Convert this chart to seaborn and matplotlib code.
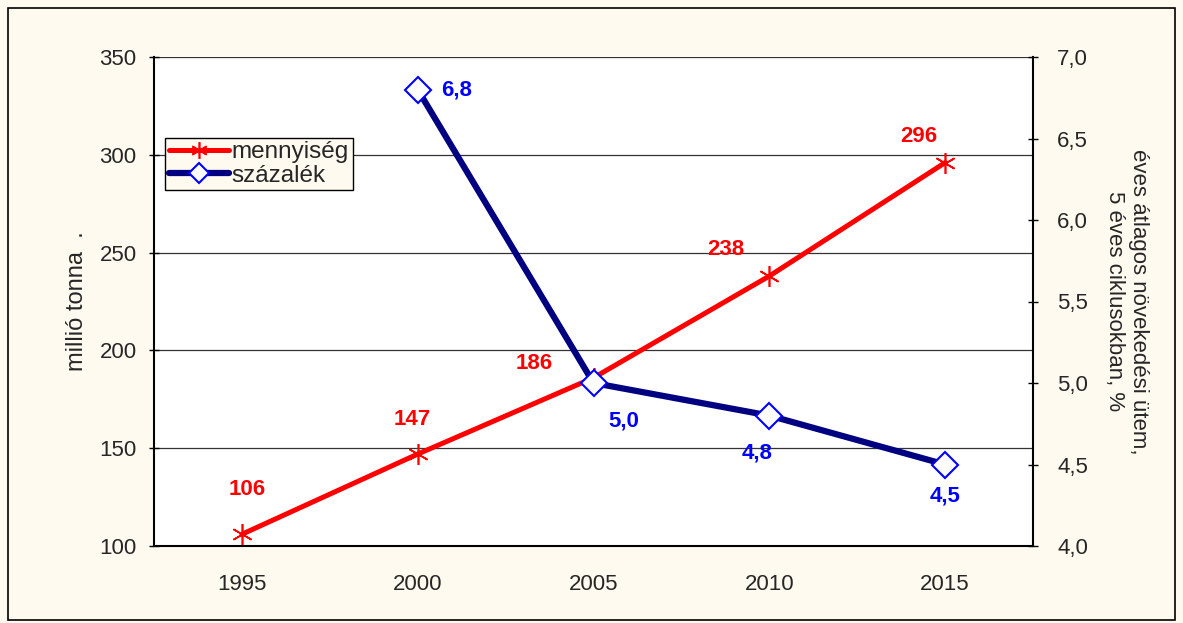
import matplotlib
matplotlib.use("Agg")
import matplotlib.pyplot as plt
import seaborn as sns
import numpy as np
import pandas as pd

years = ["1995", "2000", "2005", "2010", "2015"]
mennyiseg = [106, 147, 186, 238, 296]
szazalek = [np.nan, 6.8, 5.0, 4.8, 4.5]
mennyiseg_labels = ["106", "147", "186", "238", "296"]
szazalek_labels = ["", "6,8", "5,0", "4,8", "4,5"]

sns.set_style("white")
plt.rcParams['font.family'] = ['Liberation Sans', 'DejaVu Sans']

df = pd.DataFrame({"pos": np.arange(len(years)), "m": mennyiseg, "s": szazalek})

FS = 16

fig = plt.figure(figsize=(11.83, 6.23), dpi=100, facecolor="#FFFAF0")
ax = fig.add_axes([154/1183, 77/623, (1033-154)/1183, (546-57)/623])
ax.set_facecolor("white")
ax2 = ax.twinx()

sns.lineplot(data=df, x="pos", y="m", ax=ax, color="red", linewidth=3.6,
             marker=(6, 2, 0), markersize=15, markeredgecolor="red",
             markeredgewidth=1.2, label="mennyiség", legend=False, zorder=3)
sns.lineplot(data=df, x="pos", y="s", ax=ax2, color="#000080", linewidth=4.5,
             marker="D", markersize=13, markerfacecolor="white",
             markeredgecolor="blue", markeredgewidth=1.5, label="százalék",
             legend=False, zorder=3)

ax.set_xlim(-0.5, len(years) - 0.5)
ax.set_ylim(100, 350)
ax2.set_ylim(4.0, 7.0)
ax.set_yticks([100, 150, 200, 250, 300, 350])
ax2.set_yticks(np.arange(4.0, 7.01, 0.5))
ax2.set_yticklabels([f"{v:.1f}".replace(".", ",") for v in np.arange(4.0, 7.01, 0.5)])

ax.set_xticks(np.arange(-0.5, len(years), 1.0))
ax.set_xticklabels([])
ax.set_xticks(np.arange(len(years)), minor=True)
ax.set_xticklabels(years, minor=True)
ax.tick_params(axis="x", which="minor", length=0, pad=20, labelsize=FS)
ax.tick_params(axis="x", which="major", length=7, width=1, direction="inout", color="black")
ax.tick_params(axis="y", length=7, width=1, direction="inout", labelsize=FS, pad=9, color="black")
ax2.tick_params(axis="y", length=7, width=1, direction="inout", labelsize=FS, pad=14, color="black")

ax.yaxis.grid(True, color="#333333", linewidth=0.9)
ax.set_axisbelow(True)
for sp in ax.spines.values():
    sp.set_visible(False)
for sp in ax2.spines.values():
    sp.set_visible(False)
ax.spines["left"].set_visible(True)
ax.spines["bottom"].set_visible(True)
ax2.spines["right"].set_visible(True)
for s in [ax.spines["left"], ax.spines["bottom"], ax2.spines["right"]]:
    s.set_color("black")
    s.set_linewidth(1.5)

ax.set_xlabel("")
ax.set_ylabel("millió tonna  .", fontsize=FS + 1, labelpad=8)
ax2.set_ylabel("éves átlagos növekedési ütem,\n5 éves ciklusokban, %", fontsize=FS,
               rotation=270, labelpad=44)

# data labels
m_off = [(4, 32), (-4, 25), (-43, 10), (-31, 19), (-19, 19)]
for i, (v, t) in enumerate(zip(mennyiseg, mennyiseg_labels)):
    ax.annotate(t, (i, v), xytext=m_off[i], textcoords="offset points",
                color="red", fontsize=FS, fontweight="bold", ha="center", va="center")
s_off = [(0, 0), (28, 0), (22, -27), (-9, -27), (0, -23)]
for i, (v, t) in enumerate(zip(szazalek, szazalek_labels)):
    if t:
        ax2.annotate(t, (i, v), xytext=s_off[i], textcoords="offset points",
                     color="blue", fontsize=FS, fontweight="bold", ha="center", va="center")

h1, l1 = ax.get_legend_handles_labels()
h2, l2 = ax2.get_legend_handles_labels()
leg = ax2.legend(h1 + h2, l1 + l2, loc="upper left", bbox_to_anchor=(0.0125, 0.835),
                 fontsize=FS + 1.5, frameon=True, fancybox=False, facecolor="#FFFAF0",
                 edgecolor="black", framealpha=1, handlelength=2.5, handletextpad=0.1,
                 borderpad=0.15, labelspacing=0.05, borderaxespad=0, markerscale=0.8)
leg.get_frame().set_linewidth(1.0)

fig.patches.append(plt.Rectangle((8/1183, 3/623), 1167/1183, 612/623, transform=fig.transFigure,
                                 fill=False, edgecolor="black", linewidth=1.2))

fig.savefig("out.png", dpi=100, facecolor=fig.get_facecolor())
